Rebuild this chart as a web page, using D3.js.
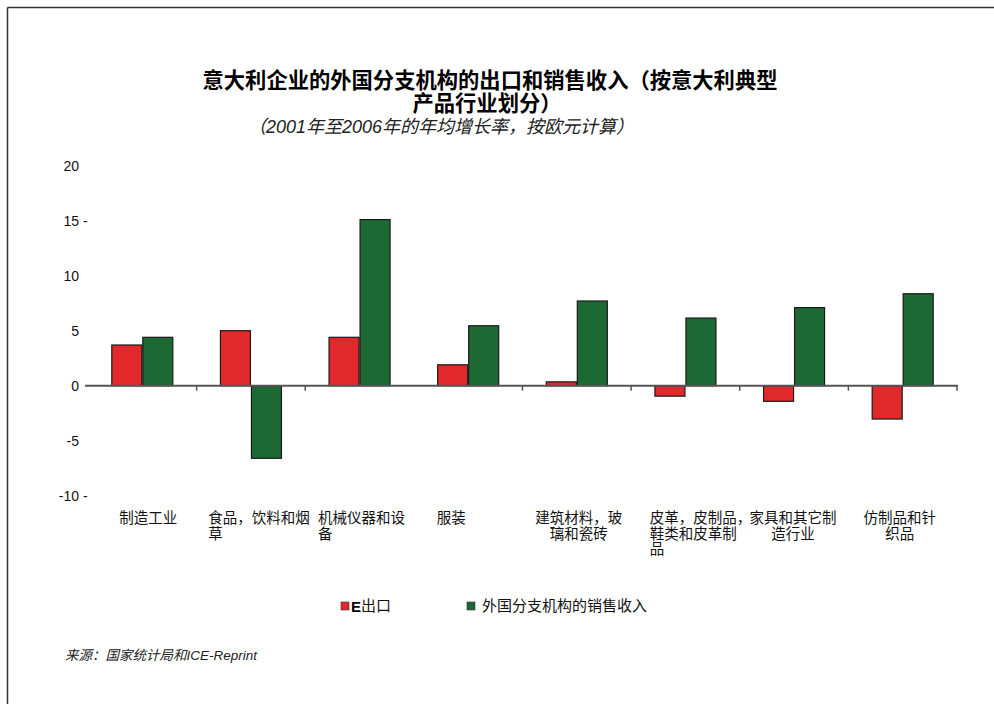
<!DOCTYPE html>
<html><head><meta charset="utf-8">
<script src="https://cdn.jsdelivr.net/npm/d3@7/dist/d3.min.js"></script>
<style>
html,body{margin:0;padding:0;background:#fff;}
svg{display:block;}
</style></head>
<body>
<svg id="c" width="994" height="704"></svg>
<script>
const categories = ["制造工业","食品，饮料和烟草","机械仪器和设备","服装","建筑材料，玻璃和瓷砖","皮革，皮制品，鞋类和皮革制品","家具和其它制造行业","仿制品和针织品"];
const categoryLines = [
  ["制造工业"],
  ["食品，饮料和烟","草"],
  ["机械仪器和设","备"],
  ["服装"],
  ["建筑材料，玻","璃和瓷砖"],
  ["皮革，皮制品，","鞋类和皮革制","品"],
  ["家具和其它制","造行业"],
  ["仿制品和针","织品"]
];
const lineAlign = [["middle"],["start","start"],["start","start"],["middle"],["middle","middle"],["start","start","start"],["middle","middle"],["middle","middle"]];
const labelDx = [6, 8, 2, -17, 2, 15, -1, -3];
const seriesNames = ["出口","外国分支机构的销售收入"];
const exportsVals = [3.7, 5.0, 4.4, 1.9, 0.35, -0.95, -1.42, -3.03];
const salesVals = [4.4, -6.6, 15.1, 5.45, 7.7, 6.15, 7.1, 8.36];
const yTicks = [20, 15, 10, 5, 0, -5, -10];
const yTickSuffix = ["", "-", "", "", "", "", "-"];
const colors = ["#E1282A", "#1C6934"];

const svg = d3.select("#c");
const CJK = "'Noto Sans CJK SC','Noto Sans',sans-serif";
const LAT = "'Liberation Sans',Arial,sans-serif";

// frame
svg.append("line").attr("x1",7.5).attr("x2",994).attr("y1",7.5).attr("y2",7.5).attr("stroke","#333").attr("stroke-width",1.5);
svg.append("line").attr("x1",7.5).attr("x2",7.5).attr("y1",7.5).attr("y2",704).attr("stroke","#333").attr("stroke-width",1.5);

// titles
svg.append("text").attr("x",490).attr("y",88).attr("text-anchor","middle")
  .style("font-family",CJK).style("font-weight","bold").style("font-size","21.3px").attr("fill","#000")
  .text("意大利企业的外国分支机构的出口和销售收入（按意大利典型");
svg.append("text").attr("x",487).attr("y",111).attr("text-anchor","middle")
  .style("font-family",CJK).style("font-weight","bold").style("font-size","21.3px").attr("fill","#000")
  .text("产品行业划分）");
svg.append("text").attr("x",441).attr("y",133).attr("text-anchor","middle")
  .style("font-family",LAT+",'Noto Sans CJK SC'").style("font-style","italic").style("font-size","18px").attr("fill","#222")
  .text("（2001年至2006年的年均增长率，按欧元计算）");

const x0 = d3.scaleBand().domain(categories).range([88, 957]).padding(0);
const bw = x0.bandwidth();
const x1 = d3.scaleBand().domain(seriesNames).range([bw*0.2145, bw*0.7855]).padding(0);
const y = d3.scaleLinear().domain([-10, 20]).range([495.7, 165.7]);

// y tick labels
const yt = svg.append("g");
yTicks.forEach((t,i)=>{
  yt.append("text").attr("x",79).attr("y",y(t)+5).attr("text-anchor","end")
    .style("font-family",LAT).style("font-size","14px").attr("fill","#111").text(String(t));
  if (yTickSuffix[i]) {
    yt.append("text").attr("x",83).attr("y",y(t)+5)
      .style("font-family",LAT).style("font-size","14px").attr("fill","#111").text(yTickSuffix[i]);
  }
});

// bars
const data = categories.map((c,i)=>({c, vals:[exportsVals[i], salesVals[i]]}));
const g = svg.append("g");
data.forEach(d=>{
  d.vals.forEach((v,k)=>{
    const s = seriesNames[k];
    g.append("rect")
      .attr("x", x0(d.c)+x1(s)+0.5)
      .attr("y", Math.min(y(v), y(0)))
      .attr("width", x1.bandwidth()-1)
      .attr("height", Math.abs(y(v)-y(0)))
      .attr("fill", colors[k])
      .attr("stroke", "#1a1a1a").attr("stroke-width", 1.2);
  });
});

// zero axis
svg.append("line").attr("x1",85).attr("x2",958).attr("y1",y(0)).attr("y2",y(0))
  .attr("stroke","#555").attr("stroke-width",2);
categories.forEach((c,i)=>{
  if (i===2) return;
  const xx = x0(c)+bw;
  svg.append("line").attr("x1",xx).attr("x2",xx).attr("y1",y(0)).attr("y2",y(0)+5)
    .attr("stroke","#555").attr("stroke-width",1.5);
});

// category labels
const LFS = 14.5;
categoryLines.forEach((lines,i)=>{
  const cx = x0(categories[i]) + bw/2 + labelDx[i];
  const tmp = svg.append("text").style("font-family",CJK).style("font-size",LFS+"px").text(lines[0]);
  const w0 = tmp.node().getComputedTextLength(); tmp.remove();
  const left = cx - w0/2;
  lines.forEach((ln,j)=>{
    const a = lineAlign[i][j];
    svg.append("text")
      .attr("x", a==="start" ? left : cx)
      .attr("y", 523 + j*15.5)
      .attr("text-anchor", a)
      .style("font-family",CJK).style("font-size",LFS+"px").attr("fill","#111")
      .text(ln);
  });
});

// legend
const lg = svg.append("g");
lg.append("rect").attr("x",341).attr("y",602).attr("width",8).attr("height",8).attr("fill",colors[0]).attr("stroke","#333").attr("stroke-width",0.6);
lg.append("text").attr("x",351).attr("y",612).style("font-family",LAT).style("font-weight","bold").style("font-size","15px").attr("fill","#000").text("E");
lg.append("text").attr("x",361).attr("y",611).style("font-family",CJK).style("font-size","15px").attr("fill","#111").text(seriesNames[0]);
lg.append("rect").attr("x",467).attr("y",602).attr("width",8).attr("height",8).attr("fill",colors[1]).attr("stroke","#333").attr("stroke-width",0.6);
lg.append("text").attr("x",482).attr("y",611).style("font-family",CJK).style("font-size","15px").attr("fill","#111").text(seriesNames[1]);

// source
svg.append("text").attr("x",65).attr("y",660)
  .style("font-family",LAT+",'Noto Sans CJK SC'").style("font-style","italic").style("font-size","13.5px").attr("fill","#222")
  .text("来源：国家统计局和ICE-Reprint");
</script>
</body></html>
